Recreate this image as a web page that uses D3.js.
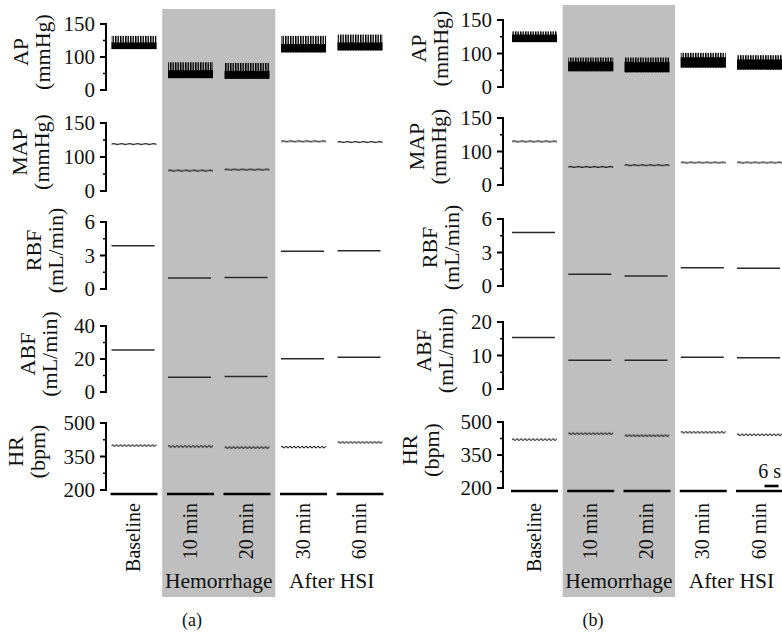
<!DOCTYPE html>
<html><head><meta charset="utf-8">
<script src="https://cdn.jsdelivr.net/npm/d3@7"></script>
<style>
body{margin:0;background:#fff}
svg{display:block}
text{font-family:"Liberation Serif","Times New Roman",serif;fill:#111}
</style>
</head><body>
<svg id="chart" width="782" height="636"></svg>
<script>
// ---------- data ----------
const categories = ["Baseline", "10 min", "20 min", "30 min", "60 min"];
const groupLabels = ["Hemorrhage", "After HSI"];
const groupMembers = [["10 min", "20 min"], ["30 min", "60 min"]];
const panelLabels = ["(a)", "(b)"];
const rowNames = ["AP", "MAP", "RBF", "ABF", "HR"];
const rowUnits = ["(mmHg)", "(mmHg)", "(mL/min)", "(mL/min)", "(bpm)"];

const ticksPressure = [0, 100, 150];
const ticksRBF = [0, 3, 6];
const ticksABF_A = [0, 20, 40];
const ticksABF_B = [0, 10, 20];
const ticksHR = [200, 350, 500];

// panel (a)
const apMinA = [112, 36, 34, 107, 110];
const apMaxA = [132, 84, 82, 132, 134];
const mapA = [119, 60, 63, 123, 122];
const rbfA = [3.87, 0.98, 1.04, 3.39, 3.42];
const abfA = [25.4, 9.0, 9.4, 20.2, 21.0];
const hrA = [399, 395, 390, 392, 413];

// panel (b)
const apMinB = [117, 47, 44, 58, 52];
const apMaxB = [133, 88, 88, 101, 95];
const mapB = [115, 54, 59, 67, 67];
const rbfB = [4.79, 1.06, 0.90, 1.63, 1.60];
const abfB = [15.4, 8.6, 8.6, 9.5, 9.3];
const hrB = [420, 447, 438, 453, 442];

const scaleBarLabel = "6 s";

// ---------- drawing ----------
const svg = d3.select("#chart");
const defs = svg.append("defs");

const stripes = defs.append("pattern").attr("id", "stripes")
  .attr("patternUnits", "userSpaceOnUse").attr("width", 2.5).attr("height", 10);
stripes.append("rect").attr("x", 0).attr("y", 0).attr("width", 1.5).attr("height", 10).attr("fill", "#000");

const wave = defs.append("pattern").attr("id", "wave")
  .attr("patternUnits", "userSpaceOnUse").attr("x", 0).attr("y", -2).attr("width", 4).attr("height", 4);
wave.append("path").attr("d", "M0,2 Q1,0.6 2,2 T4,2").attr("fill", "none").attr("stroke", "#000").attr("stroke-width", 1.1);

const waveFlat = defs.append("pattern").attr("id", "waveFlat")
  .attr("patternUnits", "userSpaceOnUse").attr("x", 0).attr("y", -2).attr("width", 8).attr("height", 4);
waveFlat.append("path").attr("d", "M0,2 Q2,1.3 4,2 T8,2").attr("fill", "none").attr("stroke", "#000").attr("stroke-width", 1.1);

const panels = [
  {
    label: panelLabels[0], axisX: 106,
    tops: [24, 123, 222, 326, 423], bottoms: [90, 191, 289, 392, 490],
    xRange: [134, 360], grayY: [9, 597], barY: 494, catY: 503, groupY: 588,
    letterX: 192, letterY: 626,
    titleOff: [56, 57, 43, 49, 61],
    ticks: [ticksPressure, ticksPressure, ticksRBF, ticksABF_A, ticksHR],
    apMin: apMinA, apMax: apMaxA, rows: [null, mapA, rbfA, abfA, hrA],
    solidFrac: 0.5, scaleBar: false
  },
  {
    label: panelLabels[1], axisX: 503,
    tops: [20, 118, 219, 322, 422], bottoms: [87, 185, 286, 389, 488],
    xRange: [534.5, 759.5], grayY: [5, 597], barY: 491, catY: 503, groupY: 588,
    letterX: 593, letterY: 626,
    titleOff: [55, 57, 44, 50, 64],
    ticks: [ticksPressure, ticksPressure, ticksRBF, ticksABF_B, ticksHR],
    apMin: apMinB, apMax: apMaxB, rows: [null, mapB, rbfB, abfB, hrB],
    solidFrac: 0.7, scaleBar: true
  }
];

const traceW = 45, barW = 47;

panels.forEach(p => {
  const g = svg.append("g");
  const x = d3.scalePoint().domain(categories).range(p.xRange);
  const step = x.step();

  // gray hemorrhage background
  const hx0 = x(groupMembers[0][0]) - step / 2;
  const hx1 = x(groupMembers[0][1]) + step / 2;
  g.append("rect").attr("x", hx0).attr("y", p.grayY[0])
    .attr("width", hx1 - hx0).attr("height", p.grayY[1] - p.grayY[0]).attr("fill", "#bfbfbf");

  rowNames.forEach((name, ri) => {
    const t = p.ticks[ri];
    const top = p.tops[ri], bot = p.bottoms[ri];
    const y = d3.scaleLinear().domain(t).range([bot, (top + bot) / 2, top]);
    const minor = d3.pairs(t).map(([a, b]) => (a + b) / 2);

    const ax = g.append("g").attr("transform", `translate(${p.axisX},0)`);
    ax.append("line").attr("x1", 0).attr("x2", 0).attr("y1", y(t[0]) + 1).attr("y2", y(t[2]) - 1)
      .attr("stroke", "#000").attr("stroke-width", 2);
    ax.selectAll(".maj").data(t).join("line")
      .attr("x1", -6).attr("x2", 0).attr("y1", d => y(d)).attr("y2", d => y(d))
      .attr("stroke", "#000").attr("stroke-width", 2);
    ax.selectAll(".min").data(minor).join("line")
      .attr("x1", -3).attr("x2", 0).attr("y1", d => y(d)).attr("y2", d => y(d))
      .attr("stroke", "#000").attr("stroke-width", 1.5);
    ax.selectAll("text.tl").data(t).join("text").attr("class", "tl")
      .attr("x", -11).attr("y", d => y(d)).attr("dy", "0.35em")
      .attr("text-anchor", "end").attr("font-size", 21).text(d => d);

    // axis title (two lines, rotated)
    const midY = (top + bot) / 2 - 5;
    const bx2 = p.axisX - p.titleOff[ri];
    g.append("text").attr("transform", `translate(${bx2 - 22},${midY}) rotate(-90)`)
      .attr("text-anchor", "middle").attr("font-size", 22).text(name);
    g.append("text").attr("transform", `translate(${bx2},${midY}) rotate(-90)`)
      .attr("text-anchor", "middle").attr("font-size", 22).text(rowUnits[ri]);

    // traces
    if (ri === 0) {
      categories.forEach((c, i) => {
        const x0 = x(c) - traceW / 2;
        const yMax = y(p.apMax[i]), yMin = y(p.apMin[i]);
        g.append("rect").attr("x", x0).attr("y", yMax).attr("width", traceW)
          .attr("height", yMin - yMax).attr("fill", "url(#stripes)");
        const ySolid = yMin - (yMin - yMax) * p.solidFrac;
        g.append("rect").attr("x", x0).attr("y", ySolid).attr("width", traceW)
          .attr("height", yMin - ySolid).attr("fill", "#000");
      });
    } else {
      const vals = p.rows[ri];
      categories.forEach((c, i) => {
        const x0 = x(c) - traceW / 2;
        const tg = g.append("g").attr("transform", `translate(${x0},${y(vals[i])})`);
        if (name === "HR") {
          tg.append("rect").attr("x", 0).attr("y", -2).attr("width", traceW).attr("height", 4)
            .attr("fill", "url(#wave)");
        } else if (name === "MAP") {
          tg.append("rect").attr("x", 0).attr("y", -2).attr("width", traceW).attr("height", 4)
            .attr("fill", "url(#waveFlat)");
        } else {
          tg.append("line").attr("x1", 0).attr("x2", traceW - 2).attr("y1", 0).attr("y2", 0)
            .attr("stroke", "#2a2a2a").attr("stroke-width", 1.5);
        }
      });
    }
  });

  // bottom bars
  g.selectAll(".bar").data(categories).join("line")
    .attr("x1", d => x(d) - barW / 2).attr("x2", d => x(d) + barW / 2)
    .attr("y1", p.barY).attr("y2", p.barY).attr("stroke", "#000").attr("stroke-width", 2.6);

  // category labels
  categories.forEach(c => {
    g.append("text").attr("transform", `translate(${x(c)},${p.catY}) rotate(-90)`)
      .attr("dy", "0.3em").attr("text-anchor", "end").attr("font-size", 20).text(c);
  });

  // group labels
  groupMembers.forEach((m, gi) => {
    const cx = (x(m[0]) + x(m[1])) / 2;
    g.append("text").attr("x", cx).attr("y", p.groupY).attr("text-anchor", "middle")
      .attr("font-size", 21.5).text(groupLabels[gi]);
  });

  // panel letter
  g.append("text").attr("x", p.letterX).attr("y", p.letterY).attr("text-anchor", "middle")
    .attr("font-size", 18).text(p.label);

  // scale bar
  if (p.scaleBar) {
    const last = categories[categories.length - 1];
    const sx = x(last) + 12;
    g.append("line").attr("x1", sx - 7).attr("x2", sx + 7).attr("y1", 486).attr("y2", 486)
      .attr("stroke", "#000").attr("stroke-width", 2.6);
    g.append("text").attr("x", 781).attr("y", 478).attr("text-anchor", "end")
      .attr("font-size", 20).text(scaleBarLabel);
  }
});
</script>
</body></html>
